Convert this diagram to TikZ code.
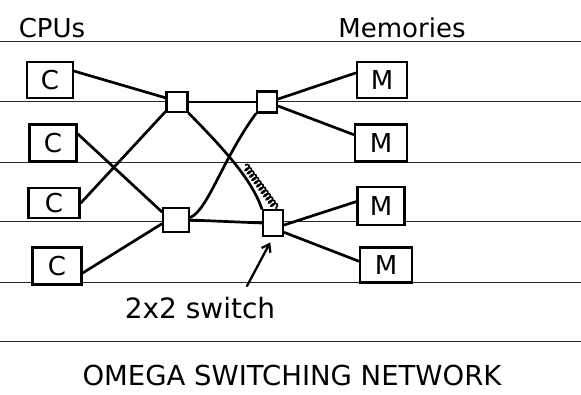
\documentclass[tikz,border=0pt]{standalone}
\usepackage{fontspec}
\setmainfont{DejaVu Sans}
\usetikzlibrary{arrows.meta,decorations.pathmorphing}
\begin{document}
\begin{tikzpicture}[x=1pt,y=-1pt,
  rule/.style={line width=1pt, black!85},
  box/.style={draw, line width=2.6pt, inner sep=0pt, fill=white, font=\fontsize{26}{26}\selectfont},
  sw/.style={draw, line width=2.3pt, inner sep=0pt, fill=white},
  wire/.style={line width=2.7pt, line cap=round},
  lbl/.style={anchor=base, inner sep=0pt}]
\useasboundingbox (0,0) rectangle (581,394);
\fill[white] (0,0) rectangle (581,394);
\foreach \yy in {41,101,162,221,282,341} \draw[rule] (0,\yy) -- (581,\yy);

% texts
\node[lbl, font=\fontsize{26}{26}\selectfont] (tcpu) at (52,37) {CPUs};
\node[lbl, font=\fontsize{26}{26}\selectfont] (tmem) at (402,37) {Memories};
\node[lbl, font=\fontsize{28}{28}\selectfont] (tsw) at (200,318) {2x2 switch};
\node[lbl, font=\fontsize{27.5}{28}\selectfont] (title) at (292,385) {OMEGA SWITCHING NETWORK};

% CPUs
\node[box, minimum width=46, minimum height=36] (C1) at (50,80) {C};
\node[box, minimum width=47, minimum height=37] (C2) at (53,143) {C};
\node[box, minimum width=51, minimum height=30] (C3) at (54,203) {C};
\node[box, minimum width=49, minimum height=37] (C4) at (57,266) {C};

% Memories
\node[box, minimum width=50, minimum height=36] (M1) at (382,80) {M};
\node[box, minimum width=52, minimum height=37] (M2) at (381,143) {M};
\node[box, minimum width=47, minimum height=38] (M3) at (381,206) {M};
\node[box, minimum width=52, minimum height=35] (M4) at (386,265) {M};

% switches
\node[sw, minimum width=21, minimum height=20] (S1) at (177,102) {};
\node[sw, minimum width=20, minimum height=21] (S2) at (267,102) {};
\node[sw, minimum width=26, minimum height=24] (S3) at (176,220) {};
\node[sw, minimum width=20, minimum height=26] (S4) at (273,223) {};

% wires
\draw[wire] (C1.20) -- (S1.160);
\draw[wire] (C2.20) -- (S3.150);
\draw[wire] (C3.east) -- (S1.220);
\draw[wire] (C4.-15) -- (S3.195);
\draw[wire] (S1.east) -- (S2.west);
\draw[wire] (S3.east) -- (S4.west);
\draw[wire] (S1.south east) .. controls (225,150) and (252,180) .. (S4.north west);
\draw[wire] (S3.10) .. controls (208,210) and (222,160) .. (S2.south west);
\draw[wire] (S2.15) -- (M1.165);
\draw[wire] (S2.-20) -- (M2.163);
\draw[wire] (S4.-10) -- (M3.170);
\draw[wire] (S4.-40) -- (M4.172);

% scribble
\coordinate (sq) at (245,165);
\draw[line width=1.6pt, decorate, decoration={coil, segment length=4pt, amplitude=3pt}] (sq) -- (S4.75);

% arrow
\coordinate (atail) at (247,286);
\draw[wire, line width=2.3pt, shorten >=6pt, -{Straight Barb[length=7pt,width=10pt]}] (atail) -- (S4.south);
\end{tikzpicture}
\end{document}
